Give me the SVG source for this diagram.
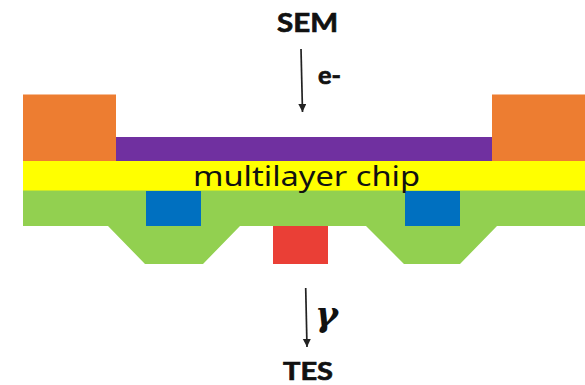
<svg xmlns="http://www.w3.org/2000/svg" width="585" height="385" viewBox="0 0 585 385">
<style>
.lbl{font-family:"Lato","Liberation Sans",sans-serif;font-weight:700;fill:#111;stroke:#111;stroke-width:0.7}
.conn{stroke:#222;stroke-width:1.7;fill:none;marker-end:url(#ah)}
</style>
<defs><marker id="ah" markerUnits="userSpaceOnUse" markerWidth="10" markerHeight="10" refX="8" refY="4" orient="auto"><path d="M0 0L8 4L0 8Z" fill="#222"/></marker></defs>
<rect width="585" height="385" fill="#fff"/>
<g id="green-layer"><path d="M23 190H585V226H497L460 264H404L366 226H240L203 264H145L108 226H23Z" fill="#92d050"/></g>
<g id="yellow-layer"><rect x="23" y="161" width="562" height="29.500" fill="#ffff00"/></g>
<g id="purple-layer"><rect x="116" y="137" width="376" height="24" fill="#7030a0"/></g>
<g id="orange-left"><rect x="23" y="94.500" width="93" height="66.500" fill="#ed7d31"/></g>
<g id="orange-right"><rect x="492" y="94.500" width="93" height="66.500" fill="#ed7d31"/></g>
<g id="blue-left"><rect x="146" y="191" width="55" height="35" fill="#0070c0"/></g>
<g id="blue-right"><rect x="405" y="191" width="55" height="35" fill="#0070c0"/></g>
<g id="red-block"><rect x="273" y="226" width="55" height="38" fill="#ea3f36"/></g>
<g id="connectors">
<path class="conn" d="M301 49L302.500 112"/>
<path class="conn" d="M305.700 288L307 347"/>
</g>
<g id="chip-label"><text x="193" y="186" font-family="'Noto Sans',sans-serif" font-size="27" textLength="227" lengthAdjust="spacingAndGlyphs" fill="#111">multilayer chip</text></g>
<g id="sem"><text class="lbl" x="277" y="31.500" font-size="26" textLength="61" lengthAdjust="spacingAndGlyphs">SEM</text></g>
<g id="e-label"><text class="lbl" x="318" y="84" font-size="25" textLength="23" lengthAdjust="spacingAndGlyphs">e-</text></g>
<g id="gamma-label"><text x="315" y="326" font-family="'DejaVu Serif',serif" font-size="34" font-weight="700" font-style="italic" fill="#111" textLength="23" lengthAdjust="spacingAndGlyphs">γ</text></g>
<g id="tes"><text class="lbl" x="283" y="380" font-size="25" textLength="50" lengthAdjust="spacingAndGlyphs">TES</text></g>
</svg>
